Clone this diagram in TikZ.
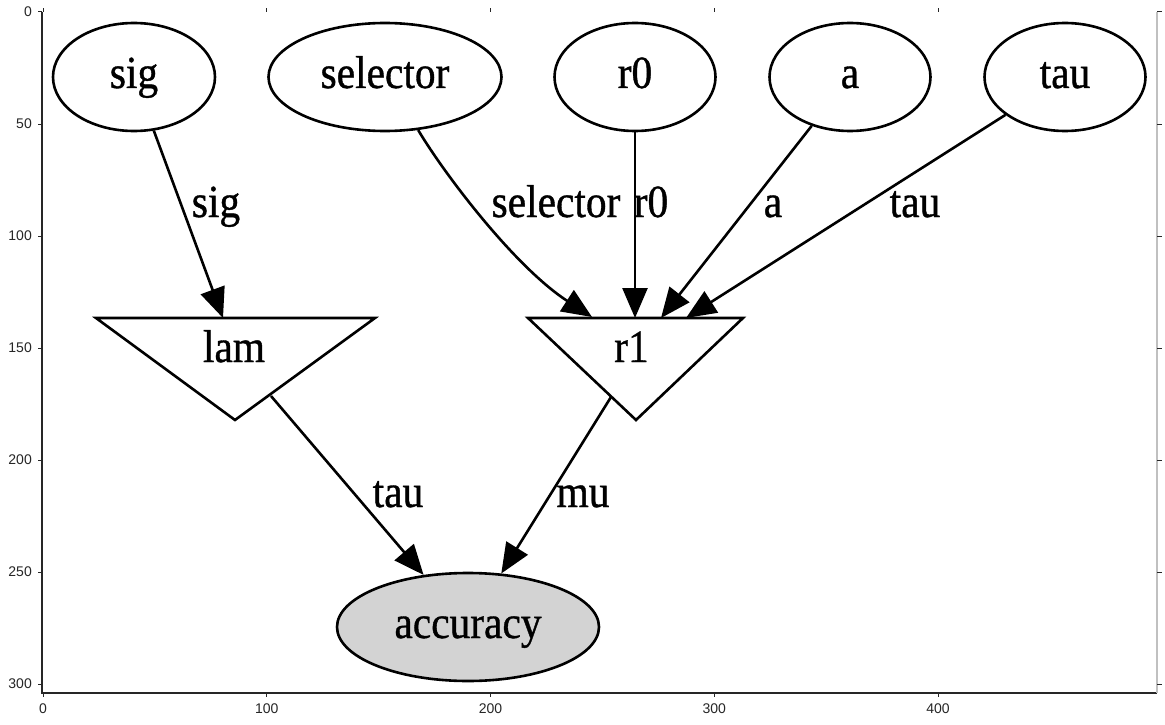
\documentclass[tikz,border=0pt]{standalone}
\usepackage{fontspec}
\newfontfamily\gvfont[FakeStretch=0.9,FakeBold=0.8]{Liberation Serif}
\newfontfamily\axfont{Liberation Sans}
\usetikzlibrary{arrows.meta,shapes.geometric}
\definecolor{axgray}{HTML}{262626}
\definecolor{rspine}{HTML}{C0C0C0}
\definecolor{obsfill}{HTML}{D3D3D3}
\begin{document}
\begin{tikzpicture}[x=1pt,y=-1pt,
  gvtext/.style={font=\gvfont\fontsize{46}{50}\selectfont, text height=22pt, text depth=0pt, inner sep=0pt},
  var/.style={gvtext, ellipse, draw=black, line width=2.6pt, minimum height=108pt},
  tri/.style={draw=black, line width=2.6pt, line join=miter},
  elabel/.style={font=\gvfont\fontsize{46}{50}\selectfont, inner sep=0pt, anchor=base},
  arr/.style={draw=black, line width=2.6pt, -{Triangle[length=30pt,width=25pt]}},
  spine/.style={draw=axgray, line width=1.4pt},
  tickmark/.style={draw=axgray, line width=1pt},
  ticklab/.style={font=\axfont\fontsize{14}{16}\selectfont, text=axgray, inner sep=0pt}]
\useasboundingbox (0,0) rectangle (1165,725);
\fill[white] (0,0) rectangle (1165,725);

% axes
\draw[spine] (42,12) -- (42,693) -- (1157,693);
\draw[draw=rspine, line width=2pt] (1157,12) -- (1157,693);
\foreach \v in {0,100,200,300,400} {
  \pgfmathsetmacro\px{43+2.2375*\v}
  \draw[tickmark] (\px,693) -- (\px,697);
  \draw[tickmark] (\px,8.5) -- (\px,12.5);
  \node[ticklab, anchor=north] (xt\v) at (\px,704) {\v};
}
\foreach \v in {0,50,100,150,200,250,300} {
  \pgfmathsetmacro\py{12+2.24*\v}
  \draw[tickmark] (38,\py) -- (42,\py);
  \draw[tickmark] (1157,\py) -- (1162,\py);
  \node[ticklab, anchor=east] (yt\v) at (32,\py) {\v};
}

% variable nodes
\node[var, minimum width=162pt] (sig) at (134,77) {sig};
\node[var, minimum width=233pt] (selector) at (385,77) {selector};
\node[var, minimum width=161pt] (r0) at (635,77) {r0};
\node[var, minimum width=161pt] (a) at (850,77) {a};
\node[var, minimum width=161pt] (tau) at (1065,77) {tau};
\node[var, fill=obsfill, minimum width=262pt] (accuracy) at (468,627) {accuracy};

% deterministic nodes (inverted triangles)
\draw[tri] (96,318) -- (375,318) -- (235,420) -- cycle;
\draw[tri] (528,318) -- (743,318) -- (636,420) -- cycle;
\node[elabel] (lam) at (234,362) {lam};
\node[elabel] (r1) at (631.5,362) {r1};

\coordinate (lamin) at (223,318);
\coordinate (lamout) at (271,396);
\coordinate (r1insel) at (592,317);
\coordinate (r1in0) at (635,318);
\coordinate (r1ina) at (661,318);
\coordinate (r1intau) at (686,318);
\coordinate (r1out) at (611,397);

% edges
\draw[arr] (sig) -- (lamin);
\draw[arr] (selector.-58) .. controls (445,175) and (515,267) .. (r1insel);
\draw[arr] (r0) -- (r1in0);
\draw[arr] (a) -- (r1ina);
\draw[arr] (tau) -- (r1intau);
\draw[arr] (lamout) -- (accuracy);
\draw[arr] (r1out) -- (accuracy);

% edge labels
\node[elabel] (lsig) at (216,217) {sig};
\node[elabel] (lsel) at (556,217) {selector};
\node[elabel] (lr0) at (651,217) {r0};
\node[elabel] (la) at (773,217) {a};
\node[elabel] (ltau) at (915,217) {tau};
\node[elabel] (ltau2) at (398,507) {tau};
\node[elabel] (lmu) at (583,507) {mu};
\end{tikzpicture}
\end{document}
